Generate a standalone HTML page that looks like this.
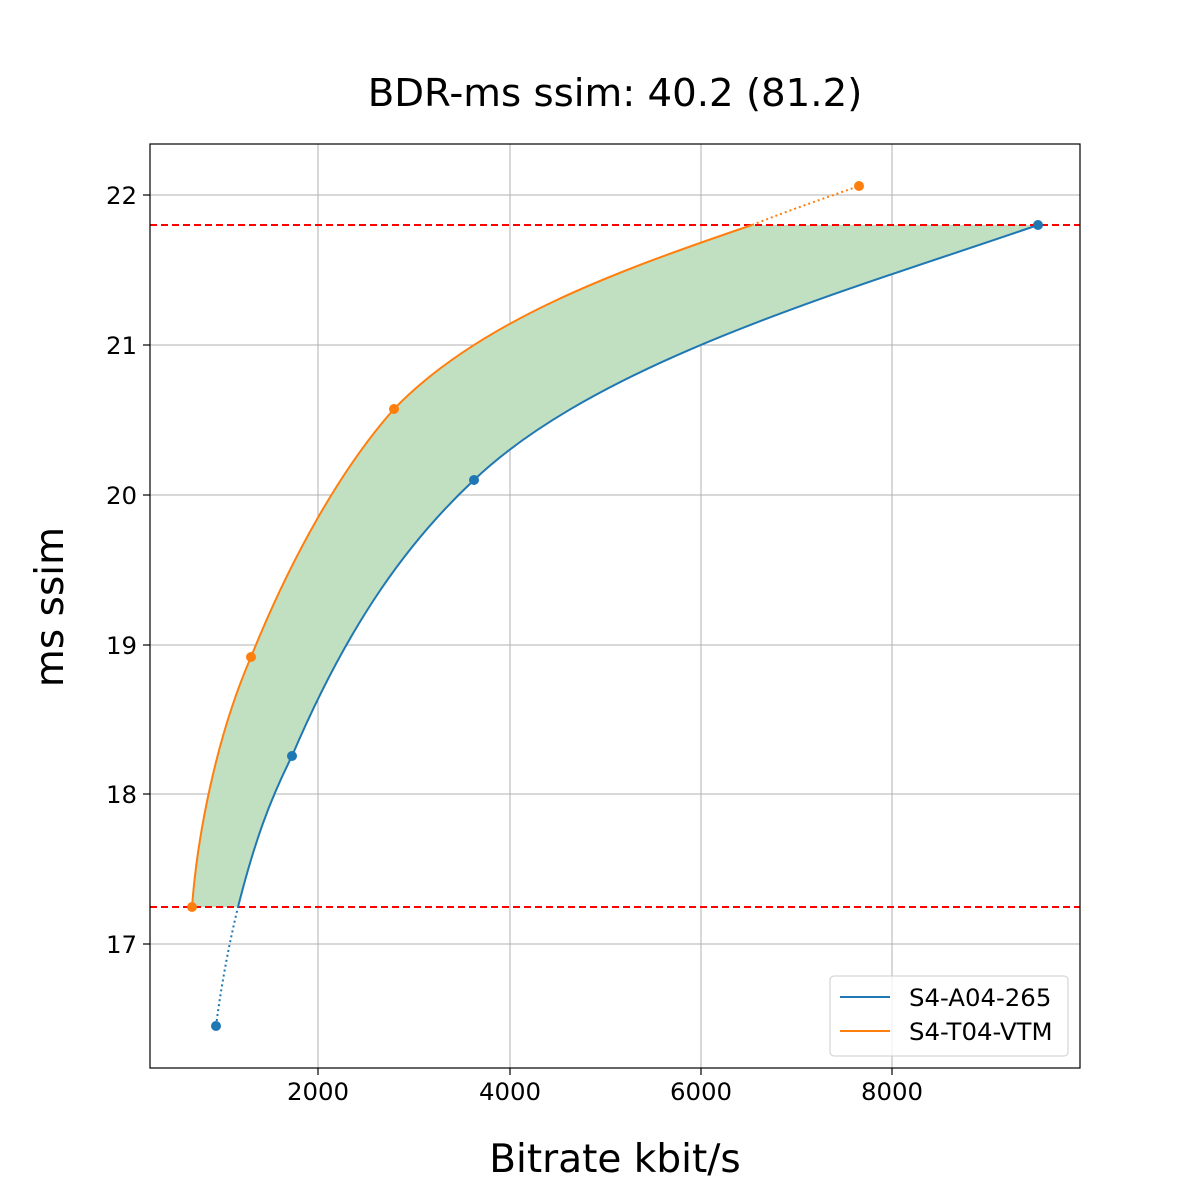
<!DOCTYPE html>
<html><head><meta charset="utf-8"><style>
body{margin:0;background:#fff}
svg{display:block}
text{font-family:"DejaVu Sans","Liberation Sans",sans-serif;fill:#000}
</style></head><body>
<svg width="1200" height="1200" viewBox="0 0 1200 1200" xmlns="http://www.w3.org/2000/svg">
<rect width="1200" height="1200" fill="#fff"/>
<text x="615" y="106" font-size="38.7" text-anchor="middle">BDR-ms ssim: 40.2 (81.2)</text>
<g stroke="#b0b0b0" stroke-width="1">
<line x1="318" y1="144" x2="318" y2="1068"/><line x1="510" y1="144" x2="510" y2="1068"/>
<line x1="701" y1="144" x2="701" y2="1068"/><line x1="892" y1="144" x2="892" y2="1068"/>
<line x1="150" y1="195" x2="1080" y2="195"/><line x1="150" y1="345" x2="1080" y2="345"/>
<line x1="150" y1="495" x2="1080" y2="495"/><line x1="150" y1="645" x2="1080" y2="645"/>
<line x1="150" y1="794" x2="1080" y2="794"/><line x1="150" y1="944" x2="1080" y2="944"/>
</g>
<path d="M192,907 C197,840 215,740 251,657 C290,560 340,470 394,409 C480,320 620,270 752,225 L1038,225 C850,290 600,360 474,480 C410,540 350,620 292,756 C270,800 255,840 238,907 Z" fill="#c1dfc1"/>
<line x1="150" y1="225" x2="1080" y2="225" stroke="#ff0000" stroke-width="2" stroke-dasharray="7,4"/>
<line x1="150" y1="907" x2="1080" y2="907" stroke="#ff0000" stroke-width="2" stroke-dasharray="7,4"/>
<path d="M216,1026 C222,980 230,940 238,907" fill="none" stroke="#1f77b4" stroke-width="2" stroke-dasharray="2,3"/>
<path d="M238,907 C255,840 270,800 292,756 C350,620 410,540 474,480 C600,360 850,290 1038,225" fill="none" stroke="#1f77b4" stroke-width="2"/>
<path d="M192,907 C197,840 215,740 251,657 C290,560 340,470 394,409 C480,320 620,270 752,225" fill="none" stroke="#ff7f0e" stroke-width="2"/>
<path d="M752,225 C790,210 825,198 859,186" fill="none" stroke="#ff7f0e" stroke-width="2" stroke-dasharray="2,3"/>
<g fill="#1f77b4"><circle cx="216" cy="1026" r="5"/><circle cx="292" cy="756" r="5"/><circle cx="474" cy="480" r="5"/><circle cx="1038" cy="225" r="5"/></g>
<g fill="#ff7f0e"><circle cx="192" cy="907" r="5"/><circle cx="251" cy="657" r="5"/><circle cx="394" cy="409" r="5"/><circle cx="859" cy="186" r="5"/></g>
<rect x="150" y="144" width="930" height="924" fill="none" stroke="#000" stroke-width="1.2"/>
<g stroke="#000" stroke-width="1.2">
<line x1="318" y1="1068" x2="318" y2="1075"/><line x1="510" y1="1068" x2="510" y2="1075"/>
<line x1="701" y1="1068" x2="701" y2="1075"/><line x1="892" y1="1068" x2="892" y2="1075"/>
<line x1="143" y1="195" x2="150" y2="195"/><line x1="143" y1="345" x2="150" y2="345"/>
<line x1="143" y1="495" x2="150" y2="495"/><line x1="143" y1="645" x2="150" y2="645"/>
<line x1="143" y1="794" x2="150" y2="794"/><line x1="143" y1="944" x2="150" y2="944"/>
</g>
<g font-size="24.4" text-anchor="middle">
<text x="318" y="1100">2000</text><text x="510" y="1100">4000</text>
<text x="701" y="1100">6000</text><text x="892" y="1100">8000</text>
</g>
<g font-size="24.4" text-anchor="end">
<text x="137" y="204">22</text><text x="137" y="354">21</text><text x="137" y="504">20</text>
<text x="137" y="654">19</text><text x="137" y="803">18</text><text x="137" y="953">17</text>
</g>
<text x="615" y="1172" font-size="39" text-anchor="middle">Bitrate kbit/s</text>
<text transform="translate(63,607) rotate(-90)" font-size="39" text-anchor="middle">ms ssim</text>
<rect x="830" y="976" width="238" height="80" rx="4" fill="#fff" fill-opacity="0.8" stroke="#ccc"/>
<line x1="840" y1="997" x2="890" y2="997" stroke="#1f77b4" stroke-width="2"/>
<line x1="840" y1="1031" x2="890" y2="1031" stroke="#ff7f0e" stroke-width="2"/>
<text x="909" y="1006" font-size="24.4">S4-A04-265</text>
<text x="909" y="1040" font-size="24.4">S4-T04-VTM</text>
</svg>
</body></html>
